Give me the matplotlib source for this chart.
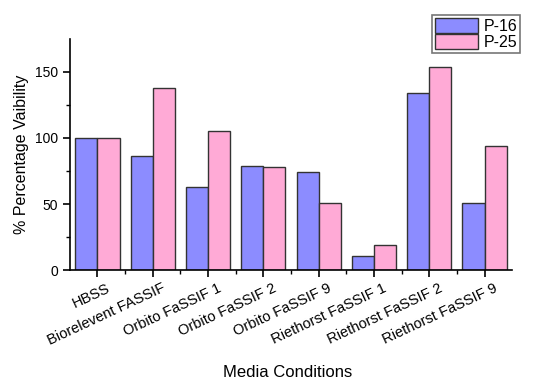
import matplotlib.pyplot as plt
import matplotlib.transforms as mtransforms
import numpy as np

plt.rcParams['font.family'] = ['Liberation Sans', 'DejaVu Sans']

categories = ['HBSS', 'Biorelevent FASSIF', 'Orbito FaSSIF 1', 'Orbito FaSSIF 2',
              'Orbito FaSSIF 9', 'Riethorst FaSSIF 1', 'Riethorst FaSSIF 2', 'Riethorst FaSSIF 9']
p16 = [100, 86, 63, 79, 74.5, 11, 134, 51]
p25 = [100, 138, 105.5, 78, 51, 19, 154, 94]

fig = plt.figure(figsize=(5.33, 3.81), dpi=100)
ax = fig.add_axes([0.131, 0.291, 0.83, 0.607])

x = np.arange(len(categories))
w = 0.4
b1 = ax.bar(x - w/2, p16, w, color='#8c8cff', edgecolor='#333333', linewidth=1, label='P-16')
b2 = ax.bar(x + w/2, p25, w, color='#ffaad6', edgecolor='#333333', linewidth=1, label='P-25')

ax.set_xlim(-0.5, 7.5)
ax.set_ylim(0, 175)
ax.set_yticks([0, 50, 100, 150])
ax.set_yticks([25, 75, 125], minor=True)
ax.set_xticks(x)
ax.set_xticks(x[:-1] + 0.5, minor=True)
ax.set_xticklabels([])
# category labels, shifted a bit right of the tick like the original
shift = mtransforms.ScaledTranslation(9/100, -11/100, fig.dpi_scale_trans)
for xi, name in zip(x, categories):
    ax.text(xi, 0, name, rotation=25, ha='right', va='top', rotation_mode='anchor',
            fontsize=10.5, transform=ax.get_xaxis_transform() + shift)
ax.tick_params(axis='y', labelsize=10)
ax.tick_params(which='major', length=5, width=1.2, direction='out')
ax.tick_params(which='minor', length=3, width=1, direction='out')
ax.spines['top'].set_visible(False)
ax.spines['right'].set_visible(False)
ax.spines['left'].set_linewidth(1.2)
ax.spines['bottom'].set_linewidth(1.2)

ax.set_ylabel('% Percentage Vaibility', fontsize=11.5)
fig.text(0.54, 0.01, 'Media Conditions', ha='center', fontsize=12)

leg = fig.legend(handles=[b1, b2], loc='upper right', bbox_to_anchor=(0.976, 0.961),
                 fontsize=11.5, frameon=True, fancybox=False, edgecolor='#555555',
                 handlelength=2.7, handleheight=1.1, handletextpad=0.3,
                 labelspacing=0.0, borderpad=0.2, borderaxespad=0)
leg.get_frame().set_linewidth(1.2)

fig.savefig('out.png', dpi=100)
